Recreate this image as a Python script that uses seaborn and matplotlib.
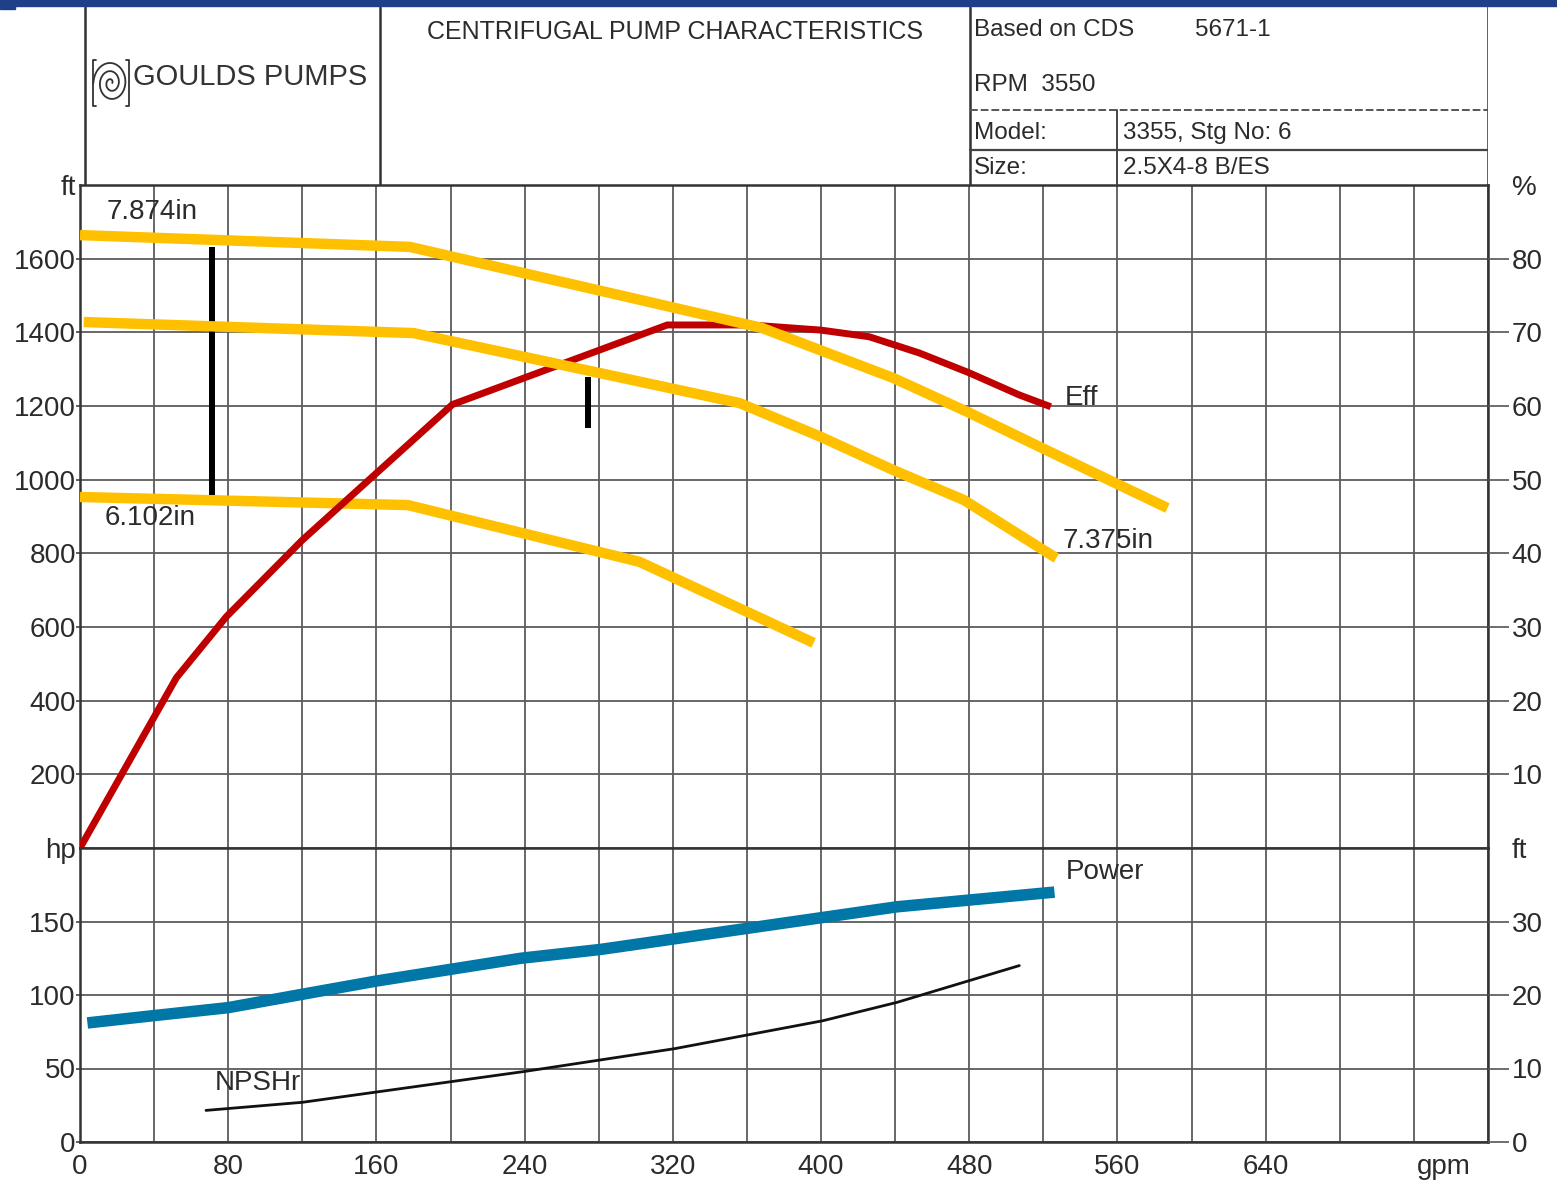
import numpy as np
import pandas as pd
import matplotlib
matplotlib.use("Agg")
import matplotlib.pyplot as plt
import seaborn as sns
from matplotlib.patches import Rectangle

# ---------------- data ----------------
flow_d7874 = [0, 178, 368, 439, 479, 518, 587]
head_d7874 = [1664, 1632, 1412, 1276, 1184, 1089, 923]

flow_d7375 = [2, 180, 356, 400, 439, 477, 527]
head_d7375 = [1428, 1398, 1208, 1116, 1026, 945, 787]

flow_d6102 = [0, 177, 302, 396]
head_d6102 = [953, 931, 777, 557]

flow_eff = [0, 52, 79, 120, 201, 317, 362, 400, 426, 453, 480, 507, 524]
eff_pct = [0, 23.1, 31.4, 41.8, 60.2, 71.0, 71.0, 70.3, 69.4, 67.2, 64.5, 61.5, 59.9]

flow_power = [4, 40, 80, 120, 160, 238, 281, 361, 441, 526]
power_hp = [81, 86, 91.4, 100.5, 109.5, 125, 131, 145.5, 160, 170]

flow_npsh = [68, 120, 160, 240, 321, 401, 441, 507]
npsh_ft = [4.3, 5.4, 6.8, 9.6, 12.7, 16.5, 19.0, 24.0]

minflow_gpm = [71, 274]
minflow_top = [1632, 1279]
minflow_bot = [958, 1140]

x_ticks = list(range(0, 761, 40))
x_labels = [str(v) if (v % 80 == 0 and v <= 640) else "" for v in x_ticks]
head_ticks = [200, 400, 600, 800, 1000, 1200, 1400, 1600, 1800]
head_labels = ["200", "400", "600", "800", "1000", "1200", "1400", "1600", "ft"]
hp_ticks = [0, 50, 100, 150, 200]
hp_labels = ["0", "50", "100", "150", "hp"]
eff_ticks = [10, 20, 30, 40, 50, 60, 70, 80, 90]
eff_labels = ["10", "20", "30", "40", "50", "60", "70", "80", "%"]
npsh_ticks = [0, 10, 20, 30, 40]
npsh_labels = ["0", "10", "20", "30", "ft"]

# ---------------- style ----------------
sns.set_theme(style="white")
plt.rcParams["font.family"] = ["Liberation Sans", "DejaVu Sans"]
TXT = "#2b2b2b"
GRID = "#5c5c5c"
YEL = "#FFC000"
RED = "#C00000"
BLU = "#0077A6"

W, H = 1557, 1186
fig = plt.figure(figsize=(W / 100, H / 100), dpi=100)
fig.patch.set_facecolor("white")

def fx(px):
    return px / W

def fy(py):
    return 1 - py / H

L, R = 80, 1488
ax_u = fig.add_axes([fx(L), fy(848), fx(R - L), (848 - 185) / H])
ax_l = fig.add_axes([fx(L), fy(1142), fx(R - L), (1142 - 848) / H])
ax_h = fig.add_axes([fx(L), fy(185), fx(R - L), (185 - 7) / H])

for ax in (ax_u, ax_l):
    ax.set_xlim(0, 760)
    ax.set_xticks(x_ticks)
    ax.grid(True, axis="both", color=GRID, lw=1.3)
    ax.set_axisbelow(True)
    for s in ax.spines.values():
        s.set_color("#333333")
        s.set_linewidth(1.8)
    ax.tick_params(axis="y", length=3, width=1.2, color="#444444", pad=0,
                   labelsize=20, labelcolor=TXT)
    ax.tick_params(axis="x", length=0, pad=9, labelsize=20, labelcolor=TXT)

ax_u.set_ylim(0, 1800)
ax_u.set_yticks(head_ticks)
ax_u.set_yticklabels(head_labels)
ax_u.set_xticklabels([])
ax_l.set_ylim(0, 200)
ax_l.set_yticks(hp_ticks)
ax_l.set_yticklabels(hp_labels)
ax_l.set_xticklabels(x_labels)

# right-hand twin axes
ax_ur = ax_u.twinx()
ax_ur.set_ylim(0, 90)
ax_ur.set_yticks(eff_ticks)
ax_ur.set_yticklabels(eff_labels)
ax_lr = ax_l.twinx()
ax_lr.set_ylim(0, 40)
ax_lr.set_yticks(npsh_ticks)
ax_lr.set_yticklabels(npsh_labels)
for ax in (ax_ur, ax_lr):
    ax.grid(False)
    for s in ax.spines.values():
        s.set_visible(False)
    ax.tick_params(axis="y", length=15, width=1.2, color="#555555", pad=2,
                   labelsize=20, labelcolor=TXT)
ax_ur.yaxis.get_major_ticks()[-1].tick2line.set_visible(False)
ax_lr.yaxis.get_major_ticks()[-1].tick2line.set_visible(False)
ax_u.yaxis.get_major_ticks()[-1].tick1line.set_visible(False)
ax_l.yaxis.get_major_ticks()[-1].tick1line.set_visible(False)

# ---------------- curves ----------------
for xg, yt, yb in zip(minflow_gpm, minflow_top, minflow_bot):
    ax_u.plot([xg, xg], [yb, yt], color="black", lw=4.3, solid_capstyle="butt", zorder=2)

df_c = pd.DataFrame({"gpm": flow_d6102, "ft": head_d6102})
sns.lineplot(data=df_c, x="gpm", y="ft", ax=ax_u, color=YEL, lw=7.5, sort=False,
             estimator=None, solid_capstyle="butt", solid_joinstyle="miter", zorder=3)

eff_scale = 1800 / 90
df_e = pd.DataFrame({"gpm": flow_eff, "ft": [e * eff_scale for e in eff_pct]})
sns.lineplot(data=df_e, x="gpm", y="ft", ax=ax_u, color=RED, lw=5, sort=False,
             estimator=None, solid_capstyle="butt", solid_joinstyle="miter", zorder=4)

df_b = pd.DataFrame({"gpm": flow_d7375, "ft": head_d7375})
sns.lineplot(data=df_b, x="gpm", y="ft", ax=ax_u, color=YEL, lw=7.5, sort=False,
             estimator=None, solid_capstyle="butt", solid_joinstyle="miter", zorder=5)
df_a = pd.DataFrame({"gpm": flow_d7874, "ft": head_d7874})
sns.lineplot(data=df_a, x="gpm", y="ft", ax=ax_u, color=YEL, lw=7.5, sort=False,
             estimator=None, solid_capstyle="butt", solid_joinstyle="miter", zorder=6)

df_p = pd.DataFrame({"gpm": flow_power, "hp": power_hp})
sns.lineplot(data=df_p, x="gpm", y="hp", ax=ax_l, color=BLU, lw=8.3, sort=False,
             estimator=None, solid_capstyle="butt", zorder=4)
df_n = pd.DataFrame({"gpm": flow_npsh, "ft": npsh_ft})
sns.lineplot(data=df_n, x="gpm", y="ft", ax=ax_lr, color="#111111", lw=2.0, sort=False,
             estimator=None, zorder=4)
for ax in (ax_u, ax_l, ax_ur, ax_lr):
    ax.set_ylabel("")
    ax.set_xlabel("")

# curve labels
lab = dict(fontsize=20, color=TXT)
ax_u.text(14.6, 1727, "7.874in", va="center", ha="left", **lab)
ax_u.text(13.5, 896, "6.102in", va="center", ha="left", **lab)
ax_u.text(530.6, 834, "7.375in", va="center", ha="left", **lab)
ax_u.text(531.7, 1222, "Eff", va="center", ha="left", **lab)
ax_l.text(532, 184, "Power", va="center", ha="left", **lab)
ax_l.text(73, 40, "NPSHr", va="center", ha="left", **lab)
ax_l.text(736, -17, "gpm", va="center", ha="center", fontsize=20, color=TXT, clip_on=False)

# ---------------- header ----------------
ax_h.set_xlim(0, 760)
ax_h.set_ylim(0, 1)
ax_h.axis("off")
hl = dict(color="#333333", lw=1.8)
for xv in (2.7, 162, 480.4, 760):
    ax_h.plot([xv, xv], [0, 1], **hl)
ax_h.plot([480.4, 760], [0.421, 0.421], color="#555555", lw=1.4, ls=(0, (4, 1.5)))
ax_h.plot([480.4, 760], [0.197, 0.197], color="#444444", lw=1.6)
ax_h.plot([559.8, 559.8], [0, 0.421], color="#444444", lw=1.4)

ax_h.text(321, 0.86, "CENTRIFUGAL PUMP CHARACTERISTICS", ha="center", va="center",
          fontsize=18, color=TXT)
ax_h.text(28.6, 0.607, "GOULDS PUMPS", ha="left", va="center", fontsize=21,
          color="#333333")
hd = dict(fontsize=17.5, color=TXT, va="center", ha="left")
ax_h.text(482.6, 0.871, "Based on CDS", **hd)
ax_h.text(601.9, 0.871, "5671-1", **hd)
ax_h.text(482.6, 0.562, "RPM  3550", **hd)
ax_h.text(482.6, 0.292, "Model:", **hd)
ax_h.text(563, 0.292, "3355, Stg No: 6", **hd)
ax_h.text(482.6, 0.096, "Size:", **hd)
ax_h.text(563, 0.096, "2.5X4-8 B/ES", **hd)

# logo mark
ax_logo = fig.add_axes([fx(91), fy(108), fx(40), 50 / H])
ax_logo.axis("off")
ax_logo.set_xlim(-1.25, 1.25)
ax_logo.set_ylim(-1.25, 1.25)
t = np.linspace(0, 5 * np.pi, 300)
r = 0.08 + 0.065 * t
ax_logo.plot(r * np.cos(t), r * np.sin(t), color="#333333", lw=1.3)
for sx in (-1, 1):
    ax_logo.plot([sx * 0.95, sx * 1.15, sx * 1.15, sx * 0.95],
                 [1.15, 1.15, -1.15, -1.15], color="#333333", lw=1.3)

# top blue band
fig.patches.append(Rectangle((0, fy(6)), 1, 6 / H, transform=fig.transFigure,
                             color="#1f3f88", zorder=10))
fig.patches.append(Rectangle((0, fy(9)), fx(15), 9 / H, transform=fig.transFigure,
                             color="#1f3f88", zorder=10))

fig.savefig("out.png", dpi=100, facecolor="white")
